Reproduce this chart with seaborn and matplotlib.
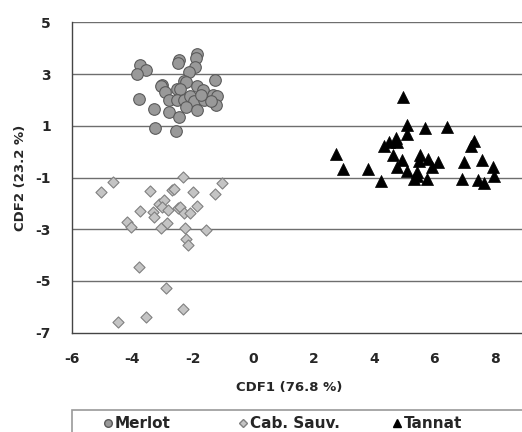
import pandas as pd
import numpy as np
import matplotlib
matplotlib.use("Agg")
import matplotlib.pyplot as plt
import seaborn as sns
from matplotlib.lines import Line2D
from matplotlib.patches import Rectangle

# Canonical discriminant scores
merlot_x = [-3.73, -3.54, -3.84, -2.46, -2.48, -1.84, -1.89, -1.93, -2.12, -1.27,
            -3.01, -3.04, -2.90, -2.51, -2.29, -2.23, -2.40, -1.87, -1.64, -3.76,
            -2.79, -2.51, -2.29, -2.07, -1.96, -1.62, -1.34, -1.20, -1.23, -1.40,
            -2.23, -1.87, -3.27, -2.79, -2.46, -3.23, -2.56, -1.73]
merlot_y = [3.33, 3.17, 3.01, 3.53, 3.43, 3.79, 3.62, 3.26, 3.08, 2.77,
            2.59, 2.52, 2.29, 2.43, 2.72, 2.69, 2.42, 2.55, 2.40, 2.05,
            1.98, 2.01, 1.98, 2.14, 1.94, 1.98, 2.20, 2.17, 1.80, 1.94,
            1.72, 1.62, 1.65, 1.52, 1.34, 0.90, 0.78, 2.20]

cab_x = [-2.32, -4.62, -5.04, -1.04, -1.27, -3.40, -2.68, -2.62, -1.99, -1.84,
         -3.73, -3.31, -3.27, -3.10, -2.96, -3.01, -2.82, -2.49, -2.40, -2.29,
         -2.10, -4.16, -4.03, -3.04, -2.84, -2.26, -1.57, -2.22, -2.14, -3.76,
         -2.87, -2.32, -3.54, -4.46]
cab_y = [-0.99, -1.17, -1.56, -1.20, -1.64, -1.52, -1.48, -1.44, -1.57, -2.09,
         -2.29, -2.32, -2.51, -2.02, -1.87, -2.13, -2.26, -2.19, -2.13, -2.38,
         -2.36, -2.73, -2.90, -2.95, -2.77, -2.97, -3.04, -3.38, -3.61, -4.45,
         -5.29, -6.09, -6.39, -6.58]

tannat_x = [4.96, 5.10, 5.68, 6.43, 5.08, 4.32, 4.49, 4.73, 4.77, 4.63,
            4.93, 4.77, 5.10, 5.52, 5.49, 5.80, 6.13, 5.91, 5.43, 5.41,
            5.32, 5.74, 4.24, 2.73, 2.97, 3.80, 7.32, 7.21, 6.99, 7.58,
            7.93, 7.97, 6.91, 7.43, 7.63]
tannat_y = [2.10, 1.04, 0.93, 0.97, 0.69, 0.22, 0.37, 0.52, 0.39, -0.12,
            -0.32, -0.58, -0.74, -0.12, -0.38, -0.28, -0.42, -0.61, -0.77, -0.96,
            -1.05, -1.05, -1.12, -0.10, -0.68, -0.67, 0.42, 0.22, -0.41, -0.31,
            -0.61, -0.96, -1.05, -1.09, -1.20]

x_ticks = [-6, -4, -2, 0, 2, 4, 6, 8]
y_ticks = [-7, -5, -3, -1, 1, 3, 5]

df = pd.concat([
    pd.DataFrame({"CDF1": merlot_x, "CDF2": merlot_y, "Cultivar": "Merlot"}),
    pd.DataFrame({"CDF1": cab_x, "CDF2": cab_y, "Cultivar": "Cab. Sauv."}),
    pd.DataFrame({"CDF1": tannat_x, "CDF2": tannat_y, "Cultivar": "Tannat"}),
], ignore_index=True)

sns.set_style("white")
plt.rcParams["font.family"] = ["DejaVu Sans"]

W, H = 522, 432
fig = plt.figure(figsize=(W / 100, H / 100), dpi=100)
ax = fig.add_axes([71.7 / W, 1 - 332.7 / H, 1 - 71.7 / W, (332.7 - 22.3) / H])

styles = {
    "Merlot": dict(marker="o", s=70, color="#999999", edgecolor="#5a5a5a", linewidth=0.8),
    "Cab. Sauv.": dict(marker="D", s=32, color="#c4c4c4", edgecolor="#808080", linewidth=0.8),
    "Tannat": dict(marker="^", s=75, color="black", edgecolor="black", linewidth=0.5),
}
for name, st in styles.items():
    sns.scatterplot(data=df[df["Cultivar"] == name], x="CDF1", y="CDF2", ax=ax,
                    legend=False, zorder=3, **st)

ax.set_xlim(-6, 8.9)
ax.set_ylim(-7, 5)
ax.set_xticks(x_ticks)
ax.set_yticks(y_ticks)
ax.set_xticklabels([str(t) for t in x_ticks], fontsize=10, fontweight="bold")
ax.set_yticklabels([str(t) for t in y_ticks], fontsize=10, fontweight="bold")
ax.tick_params(axis="both", direction="out", length=5, width=0.8, color="#555555", pad=10)
ax.tick_params(axis="x", length=4)

for yv in y_ticks[1:]:
    ax.axhline(yv, color="#6e6e6e", linewidth=1.0, zorder=1)

for side in ["top", "right"]:
    ax.spines[side].set_visible(False)
for side in ["left", "bottom"]:
    ax.spines[side].set_color("#444444")
    ax.spines[side].set_linewidth(1.0)

ax.set_xlabel("CDF1 (76.8 %)", fontsize=9.5, fontweight="bold")
ax.set_ylabel("CDF2 (23.2 %)", fontsize=9.5, fontweight="bold")
ax.xaxis.set_label_coords(0.484, -0.155)
ax.yaxis.set_label_coords(-0.099, 0.5)

# legend box runs off the bottom/right of the image
fig.patches.append(Rectangle((71.7 / W, -0.05), 1.0, 1 - 410 / H + 0.05,
                             transform=fig.transFigure, fill=False,
                             edgecolor="#9a9a9a", linewidth=1.2))
handles = [
    Line2D([], [], linestyle="none", marker="o", markersize=5.5, markerfacecolor="#999999",
           markeredgecolor="#5a5a5a", label="Merlot"),
    Line2D([], [], linestyle="none", marker="D", markersize=4.2, markerfacecolor="#c4c4c4",
           markeredgecolor="#808080", label="Cab. Sauv."),
    Line2D([], [], linestyle="none", marker="^", markersize=6, markerfacecolor="black",
           markeredgecolor="black", label="Tannat"),
]
legend_x = [104.2, 239.2, 393.2]
for h, lx in zip(handles, legend_x):
    fig.legend(handles=[h], loc="center left", bbox_to_anchor=(lx / W, 1 - 424 / H),
               frameon=False, handlelength=0.5, handletextpad=0.2, borderpad=0,
               borderaxespad=0, prop={"size": 11, "weight": "bold"})

fig.savefig("out.png", dpi=100)
